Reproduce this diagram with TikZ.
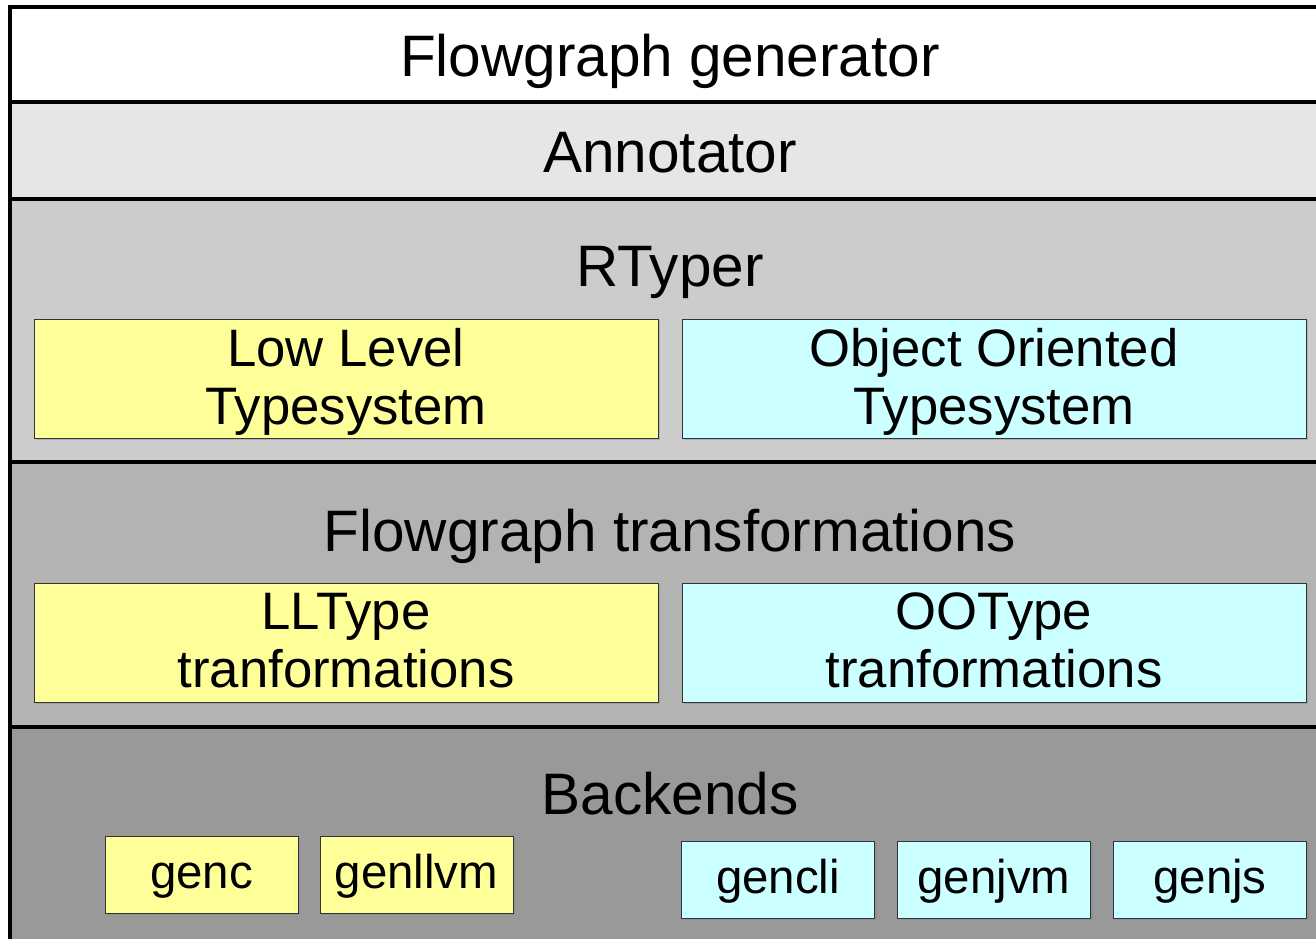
\documentclass[tikz,border=0pt]{standalone}
\usepackage{fontspec}
\setmainfont{Liberation Sans}
\usetikzlibrary{shadows}

\definecolor{annot}{HTML}{E6E6E6}
\definecolor{rtyp}{HTML}{CCCCCC}
\definecolor{trans}{HTML}{B3B3B3}
\definecolor{back}{HTML}{999999}
\definecolor{llyellow}{HTML}{FFFF99}
\definecolor{oocyan}{HTML}{CCFFFF}

\tikzset{
  layer/.style={anchor=base, font=\fontsize{33.3}{36}\selectfont},
  typebox/.style={draw=black!80, line width=0.5pt, align=center,
    minimum width=624*0.02cm, minimum height=119*0.02cm, inner sep=0pt,
    text depth=2.5pt, font=\fontsize{30}{33}\selectfont,
    drop shadow={shadow xshift=0.04cm, shadow yshift=-0.04cm, opacity=0.35}},
  genbox/.style={draw=black!80, line width=0.5pt,
    minimum width=193*0.02cm, minimum height=77*0.02cm, inner sep=0pt,
    text height=21.6pt, text depth=5.4pt, font=\fontsize{27}{30}\selectfont,
    drop shadow={shadow xshift=0.04cm, shadow yshift=-0.04cm, opacity=0.35}},
  ll/.style={fill=llyellow},
  oo/.style={fill=oocyan}
}

\begin{document}
\begin{tikzpicture}[x=0.02cm, y=-0.02cm]
  \useasboundingbox (0,0) rectangle (1316,938);
  \clip (0,0) rectangle (1316,938);
  \fill[white] (0,0) rectangle (1316,938);

  % layers
  \fill[white] (10,7) rectangle (1330,102);
  \fill[annot] (10,102) rectangle (1330,199);
  \fill[rtyp]  (10,199) rectangle (1330,462);
  \fill[trans] (10,462) rectangle (1330,727);
  \fill[back]  (10,727) rectangle (1330,960);
  \begin{scope}[line width=2.3pt]
    \draw (10,960) -- (10,7) -- (1330,7);
    \draw (10,102) -- (1330,102);
    \draw (10,199) -- (1330,199);
    \draw (10,462) -- (1330,462);
    \draw (10,727) -- (1330,727);
  \end{scope}

  \node[layer] (fg)  at (670,76)  {Flowgraph generator};
  \node[layer] (ann) at (670,172) {Annotator};
  \node[layer] (rt)  at (670,286) {RTyper};
  \node[layer] (ft)  at (670,551) {Flowgraph transformations};
  \node[layer] (be)  at (670,814) {Backends};

  % typesystems
  \node[typebox, ll] (lltype) at (346,378.5) {Low Level\\Typesystem};
  \node[typebox, oo] (ootype) at (994,378.5) {Object Oriented\\Typesystem};
  \node[typebox, ll] (lltrans) at (346,642.5) {LLType\\tranformations};
  \node[typebox, oo] (ootrans) at (994,642.5) {OOType\\tranformations};

  % backends
  \node[genbox, ll] (genc)    at (201.5,874.5) {genc};
  \node[genbox, ll] (genllvm) at (416.5,874.5) {genllvm};
  \node[genbox, oo] (gencli)  at (778,879.5)   {gencli};
  \node[genbox, oo] (genjvm)  at (994,879.5)   {genjvm};
  \node[genbox, oo] (genjs)   at (1210,879.5)  {genjs};
\end{tikzpicture}
\end{document}
